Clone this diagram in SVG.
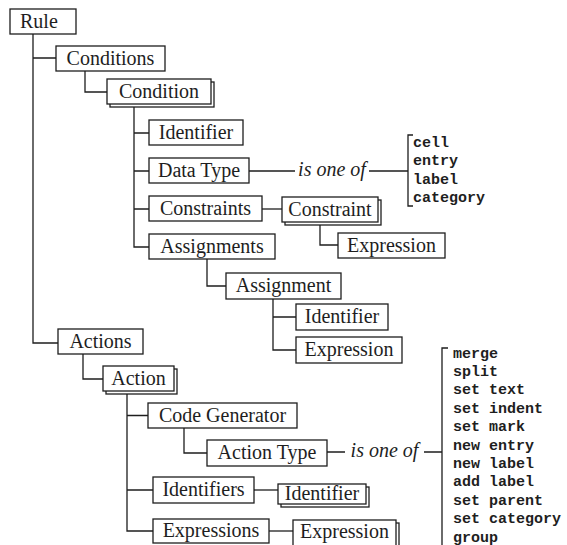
<svg xmlns="http://www.w3.org/2000/svg" width="567" height="545" viewBox="0 0 567 545">
<style>
rect{fill:#fff;stroke:#1e1e1e;stroke-width:1.3}
.c path{fill:none;stroke:#1e1e1e;stroke-width:1.3}
text{font-family:"Liberation Serif","Times New Roman",serif;font-size:20px;fill:#1e1e1e;text-anchor:middle}
.i{font-style:italic}
.m{font-family:"Liberation Mono","Courier New",monospace;font-size:15px;font-weight:bold;text-anchor:start}
</style>
<rect x="0" y="0" width="567" height="545" style="fill:#fff;stroke:none"/>
<g class="c" id="connectors">
<path d="M33 34V343H58M33 58H56"/>
<path d="M85 71V92H107"/>
<path d="M134 107V247H149M134 133H149M134 171H149M134 209H149"/>
<path d="M249 171H295M369 171H408M413 135H408V206H413"/>
<path d="M262 209H282"/>
<path d="M320 225V245H338"/>
<path d="M207 259V286H226"/>
<path d="M273 299V350H296M273 317H296"/>
<path d="M83 354V379H103"/>
<path d="M127 394V531H153M127 415.5H148M127 490H153"/>
<path d="M184 428V453H207"/>
<path d="M327 452H345M424 452H442M448 348H442V560"/>
<path d="M254 490H278"/>
<path d="M269 531H293"/>
</g>
<g id="rule"><rect x="10" y="9" width="66" height="25"/><text x="20" y="27.5" style="text-anchor:start">Rule</text></g>
<g id="conditions"><rect x="56" y="46" width="109" height="25"/><text x="110.5" y="64.5">Conditions</text></g>
<g id="condition"><rect x="110" y="82" width="104" height="25"/><rect x="107" y="79" width="104" height="25"/><text x="159" y="97.5">Condition</text></g>
<g id="cond-identifier"><rect x="149" y="120" width="94" height="25"/><text x="196" y="138.5">Identifier</text></g>
<g id="data-type"><rect x="149" y="158" width="100" height="25"/><text x="199" y="176.5">Data Type</text></g>
<g id="constraints"><rect x="149" y="196" width="113" height="25"/><text x="205.5" y="214.5">Constraints</text></g>
<g id="assignments"><rect x="149" y="234" width="126" height="25"/><text x="212" y="252.5">Assignments</text></g>
<g id="data-type-values"><text class="i" x="332" y="176">is one of</text>
<text class="m" x="413" y="147">cell</text><text class="m" x="413" y="165.3">entry</text><text class="m" x="413" y="183.6">label</text><text class="m" x="413" y="202">category</text></g>
<g id="constraint"><rect x="285" y="200" width="96" height="25"/><rect x="282" y="197" width="96" height="25"/><text x="330" y="215.5">Constraint</text></g>
<g id="constraint-expression"><rect x="338" y="233" width="107" height="25"/><text x="391.5" y="251.5">Expression</text></g>
<g id="assignment"><rect x="226" y="273" width="115" height="26"/><text x="283.5" y="292">Assignment</text></g>
<g id="assign-identifier"><rect x="296" y="304" width="92" height="26"/><text x="342" y="323">Identifier</text></g>
<g id="assign-expression"><rect x="296" y="337" width="106" height="26"/><text x="349" y="356">Expression</text></g>
<g id="actions"><rect x="58" y="329" width="85" height="25"/><text x="100.5" y="347.5">Actions</text></g>
<g id="action"><rect x="106" y="369" width="71" height="25"/><rect x="103" y="366" width="71" height="25"/><text x="138.5" y="384.5">Action</text></g>
<g id="code-generator"><rect x="148" y="403" width="149" height="25"/><text x="222.5" y="421.5">Code Generator</text></g>
<g id="action-type"><rect x="207" y="440" width="120" height="26"/><text x="267" y="459">Action Type</text></g>
<g id="action-type-values"><text class="i" x="384.5" y="457">is one of</text>
<text class="m" x="453" y="357.5">merge</text><text class="m" x="453" y="375.9">split</text><text class="m" x="453" y="394.3">set text</text><text class="m" x="453" y="412.7">set indent</text><text class="m" x="453" y="431.1">set mark</text><text class="m" x="453" y="449.5">new entry</text><text class="m" x="453" y="467.9">new label</text><text class="m" x="453" y="486.3">add label</text><text class="m" x="453" y="504.7">set parent</text><text class="m" x="453" y="523.1">set category</text><text class="m" x="453" y="541.5">group</text></g>
<g id="identifiers"><rect x="153" y="477" width="101" height="26"/><text x="203.5" y="496">Identifiers</text></g>
<g id="identifier"><rect x="281" y="487" width="88" height="20"/><rect x="278" y="484" width="88" height="20"/><text x="322" y="500">Identifier</text></g>
<g id="expressions"><rect x="153" y="519" width="116" height="24"/><text x="211" y="537">Expressions</text></g>
<g id="expression"><rect x="296" y="523" width="103" height="30"/><rect x="293" y="520" width="103" height="30"/><text x="344.5" y="538">Expression</text></g>
</svg>
